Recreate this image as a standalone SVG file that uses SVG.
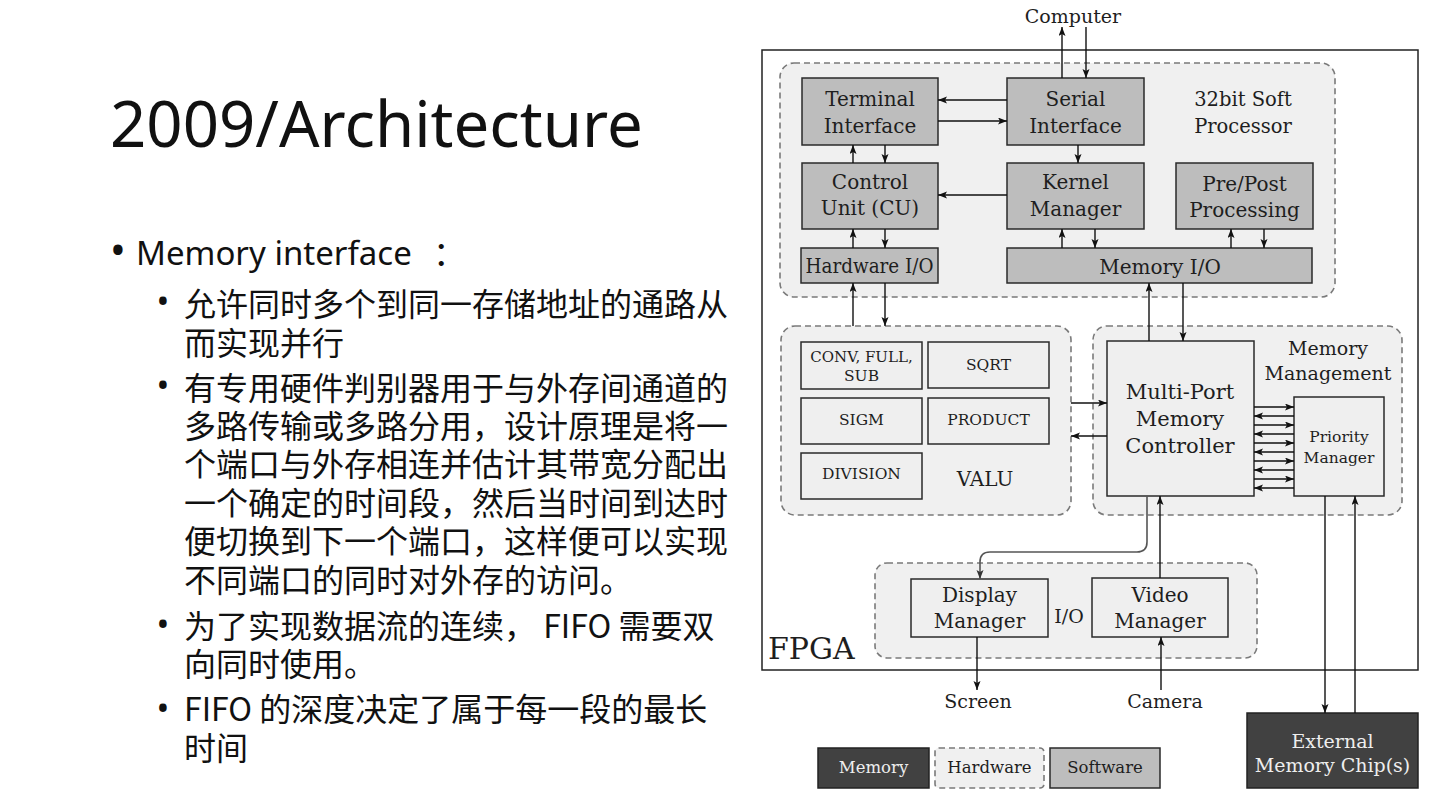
<svg xmlns="http://www.w3.org/2000/svg" width="1440" height="810" viewBox="0 0 1440 810">
<defs>
<marker id="ah" markerUnits="userSpaceOnUse" markerWidth="10" markerHeight="8" refX="9" refY="3.5" orient="auto"><path d="M0,0 L9,3.5 L0,7 L2,3.5 z" fill="#111"/></marker>
<marker id="ahg" markerUnits="userSpaceOnUse" markerWidth="10" markerHeight="8" refX="9" refY="3.5" orient="auto"><path d="M0,0 L9,3.5 L0,7 L2,3.5 z" fill="#333"/></marker>
</defs>
<style>
.sw{fill:#bdbdbd;stroke:#2a2a2a;stroke-width:1.5}
.hw{fill:#efefef;stroke:#2a2a2a;stroke-width:1.5}
.grp{fill:#f0f0f0;stroke:#7a7a7a;stroke-width:1.6;stroke-dasharray:6 4}
.mem{fill:#414141;stroke:#222;stroke-width:1.5}
.t{font-family:"DejaVu Serif","Liberation Serif",serif;fill:#1e1e1e;text-anchor:middle;font-size:20px}
.s{font-size:15.5px}
.tw{fill:#eeeeee}
.c line,.c path{stroke:#111;stroke-width:1.4;fill:none;marker-end:url(#ah)}
.c path.g{stroke:#555;stroke-width:1.6;marker-end:url(#ahg)}
.zh{font-family:"Noto Sans CJK SC",sans-serif;font-size:32px;fill:#111}
.bl{font-family:"Noto Sans",sans-serif;fill:#111;text-anchor:middle}
</style>
<rect x="0" y="0" width="1440" height="810" fill="#ffffff"/>

<g id="slide-text">
<text x="110" y="147" font-family="Noto Sans, sans-serif" font-size="63.5" fill="#111">2009/Architecture</text>
<text class="bl" x="118" y="265" style="font-size:42px">•</text>
<text x="136" y="265" font-family="Noto Sans, Noto Sans CJK SC, sans-serif" font-size="33" fill="#111">Memory interface<tspan x="433">：</tspan></text>
<text class="bl" x="163" y="313" style="font-size:34px">•</text>
<text class="zh" x="184" y="316">允许同时多个到同一存储地址的通路从</text>
<text class="zh" x="184" y="355">而实现并行</text>
<text class="bl" x="163" y="397" style="font-size:34px">•</text>
<text class="zh" x="184" y="400">有专用硬件判别器用于与外存间通道的</text>
<text class="zh" x="184" y="438">多路传输或多路分用，设计原理是将一</text>
<text class="zh" x="184" y="476">个端口与外存相连并估计其带宽分配出</text>
<text class="zh" x="184" y="515">一个确定的时间段，然后当时间到达时</text>
<text class="zh" x="184" y="553">便切换到下一个端口，这样便可以实现</text>
<text class="zh" x="184" y="592">不同端口的同时对外存的访问。</text>
<text class="bl" x="163" y="636" style="font-size:34px">•</text>
<text class="zh" x="184" y="638">为了实现数据流的连续， FIFO 需要双</text>
<text class="zh" x="184" y="676">向同时使用。</text>
<text class="bl" x="163" y="720" style="font-size:34px">•</text>
<text class="zh" x="184" y="721">FIFO 的深度决定了属于每一段的最长</text>
<text class="zh" x="184" y="760">时间</text>
</g>

<g id="fpga">
<rect x="762" y="50" width="656" height="620" fill="#ffffff" stroke="#222" stroke-width="1.5"/>
<text class="t" x="768" y="659" style="font-size:30px;text-anchor:start">FPGA</text>
</g>

<g id="processor">
<rect class="grp" x="780" y="63" width="555" height="234" rx="14"/>
<text class="t" x="1243" y="106" style="font-size:19.5px">32bit Soft</text>
<text class="t" x="1243" y="133" style="font-size:19.5px">Processor</text>
</g>
<g id="valu">
<rect class="grp" x="781" y="326" width="290" height="189" rx="14"/>
<text class="t" x="985" y="486">VALU</text>
</g>
<g id="memory-management">
<rect class="grp" x="1093" y="326" width="309" height="189" rx="14"/>
<text class="t" x="1328" y="355" style="font-size:19px">Memory</text>
<text class="t" x="1328" y="380" style="font-size:19px">Management</text>
</g>
<g id="io">
<rect class="grp" x="875" y="563" width="382" height="95" rx="12"/>
<text class="t" x="1069" y="623" style="font-size:19px">I/O</text>
</g>

<g id="terminal-interface"><rect class="sw" x="802" y="78" width="136" height="67"/><text class="t" x="870" y="106">Terminal</text><text class="t" x="870" y="133">Interface</text></g>
<g id="serial-interface"><rect class="sw" x="1007" y="78" width="137" height="67"/><text class="t" x="1075.5" y="106">Serial</text><text class="t" x="1075.5" y="133">Interface</text></g>
<g id="control-unit"><rect class="sw" x="802" y="163" width="136" height="66"/><text class="t" x="870" y="189">Control</text><text class="t" x="870" y="215">Unit (CU)</text></g>
<g id="kernel-manager"><rect class="sw" x="1007" y="163" width="137" height="66"/><text class="t" x="1075.5" y="189">Kernel</text><text class="t" x="1075.5" y="216">Manager</text></g>
<g id="pre-post"><rect class="sw" x="1176" y="163" width="137" height="66"/><text class="t" x="1244.5" y="191">Pre/Post</text><text class="t" x="1244.5" y="217">Processing</text></g>
<g id="hardware-io"><rect class="sw" x="801" y="248" width="137" height="35"/><text class="t" x="869.5" y="273" textLength="128" lengthAdjust="spacingAndGlyphs">Hardware I/O</text></g>
<g id="memory-io"><rect class="sw" x="1007" y="248" width="305" height="35"/><text class="t" x="1160" y="274">Memory I/O</text></g>

<g id="conv"><rect class="hw" x="801" y="342" width="121" height="47"/><text class="t s" x="861.5" y="362" style="font-size:15px">CONV, FULL,</text><text class="t s" x="861.5" y="381">SUB</text></g>
<g id="sqrt"><rect class="hw" x="928" y="342" width="121" height="46"/><text class="t s" x="988.5" y="370">SQRT</text></g>
<g id="sigm"><rect class="hw" x="801" y="398" width="121" height="46"/><text class="t s" x="861.5" y="425">SIGM</text></g>
<g id="product"><rect class="hw" x="928" y="398" width="121" height="46"/><text class="t s" x="988.5" y="425">PRODUCT</text></g>
<g id="division"><rect class="hw" x="801" y="453" width="121" height="46"/><text class="t s" x="861.5" y="479">DIVISION</text></g>

<g id="multi-port-memory-controller"><rect class="hw" x="1107" y="341" width="147" height="155"/><text class="t" x="1180" y="399" style="font-size:21px">Multi-Port</text><text class="t" x="1180" y="426" style="font-size:21px">Memory</text><text class="t" x="1180" y="453" style="font-size:21px">Controller</text></g>
<g id="priority-manager"><rect class="hw" x="1294" y="397" width="90" height="99"/><text class="t s" x="1339" y="442">Priority</text><text class="t s" x="1339" y="463">Manager</text></g>

<g id="display-manager"><rect class="hw" x="911" y="579" width="137" height="58"/><text class="t" x="979.5" y="602">Display</text><text class="t" x="979.5" y="628">Manager</text></g>
<g id="video-manager"><rect class="hw" x="1092" y="578" width="136" height="59"/><text class="t" x="1160" y="602">Video</text><text class="t" x="1160" y="628">Manager</text></g>

<g id="computer"><text class="t" x="1073" y="23" style="font-size:19px">Computer</text></g>
<g id="screen"><text class="t" x="978" y="708" style="font-size:19px">Screen</text></g>
<g id="camera"><text class="t" x="1165" y="708" style="font-size:19px">Camera</text></g>
<g id="external-memory"><rect class="mem" x="1247" y="713" width="171" height="75"/><text class="t tw" x="1332.5" y="748" style="font-size:19px">External</text><text class="t tw" x="1332.5" y="772" style="font-size:19px">Memory Chip(s)</text></g>

<g id="legend">
<g id="legend-memory"><rect class="mem" x="818" y="748" width="111" height="40"/><text class="t tw" x="873.5" y="773" style="font-size:16.5px">Memory</text></g>
<g id="legend-hardware"><rect class="grp" x="935" y="748" width="109" height="40" rx="4"/><text class="t" x="989.5" y="773" style="font-size:16.5px">Hardware</text></g>
<g id="legend-software"><rect class="sw" x="1050" y="748" width="110" height="40"/><text class="t" x="1105" y="773" style="font-size:16.5px">Software</text></g>
</g>

<g id="connectors" class="c">
<line x1="1062" y1="78" x2="1062" y2="27"/>
<line x1="1086" y1="27" x2="1086" y2="78"/>
<line x1="1007" y1="100" x2="938" y2="100"/>
<line x1="938" y1="121" x2="1007" y2="121"/>
<line x1="853" y1="163" x2="853" y2="145"/>
<line x1="885" y1="145" x2="885" y2="163"/>
<line x1="1078" y1="145" x2="1078" y2="163"/>
<line x1="1007" y1="195" x2="938" y2="195"/>
<line x1="853" y1="248" x2="853" y2="229"/>
<line x1="885" y1="229" x2="885" y2="248"/>
<line x1="1062" y1="248" x2="1062" y2="229"/>
<line x1="1095" y1="229" x2="1095" y2="248"/>
<line x1="1231" y1="248" x2="1231" y2="229"/>
<line x1="1264" y1="229" x2="1264" y2="248"/>
<line x1="853" y1="326" x2="853" y2="283"/>
<line x1="885" y1="283" x2="885" y2="326"/>
<line x1="1149" y1="341" x2="1149" y2="283"/>
<line x1="1183" y1="283" x2="1183" y2="341"/>
<line x1="1071" y1="403" x2="1107" y2="403"/>
<line x1="1107" y1="436" x2="1071" y2="436"/>
<line x1="1254" y1="407" x2="1294" y2="407"/>
<line x1="1294" y1="416" x2="1254" y2="416"/>
<line x1="1254" y1="425" x2="1294" y2="425"/>
<line x1="1294" y1="434" x2="1254" y2="434"/>
<line x1="1254" y1="443" x2="1294" y2="443"/>
<line x1="1294" y1="452" x2="1254" y2="452"/>
<line x1="1254" y1="461" x2="1294" y2="461"/>
<line x1="1294" y1="470" x2="1254" y2="470"/>
<line x1="1254" y1="479" x2="1294" y2="479"/>
<line x1="1294" y1="488" x2="1254" y2="488"/>
<path class="g" d="M1147,496 L1147,542 Q1147,552 1137,552 L990,552 Q980,552 980,562 L980,579"/>
<line x1="1160" y1="578" x2="1160" y2="496"/>
<line x1="977" y1="637" x2="977" y2="690"/>
<line x1="1161" y1="690" x2="1161" y2="637"/>
<line x1="1325" y1="496" x2="1325" y2="713"/>
<line x1="1355" y1="713" x2="1355" y2="496"/>
</g>
</svg>
